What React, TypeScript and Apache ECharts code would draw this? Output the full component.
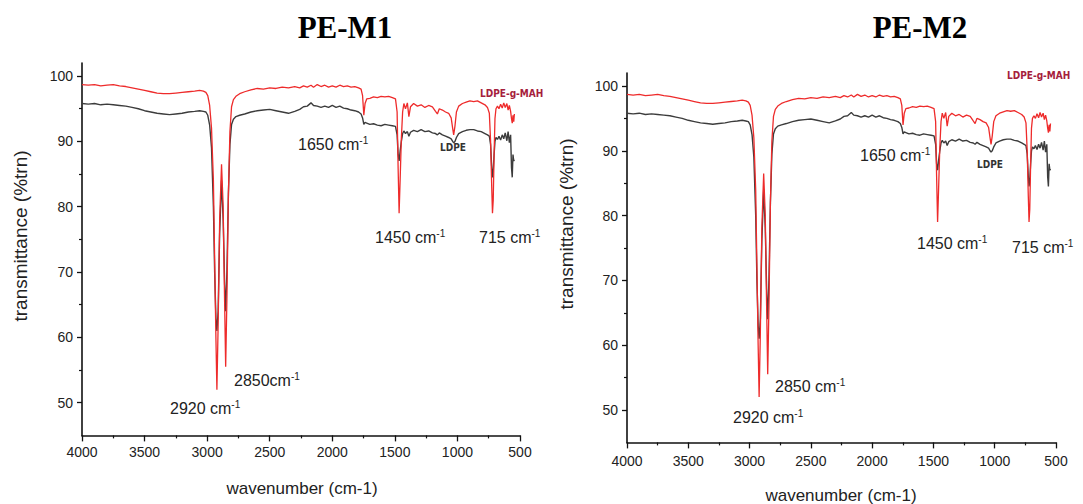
import React, { useEffect, useRef } from "react";
import * as echarts from "echarts";

// wavenumber (cm-1), shared by both spectra of a panel
const wavenumbers = [
  4000, 3950, 3900, 3850, 3800, 3750, 3700, 3650, 3600, 3550, 3500, 3450, 3400, 3350, 3300, 3250,
  3200, 3150, 3100, 3060, 3030, 3010, 2995, 2980, 2965, 2950, 2940, 2930, 2922, 2912, 2900, 2885,
  2872, 2860, 2852, 2842, 2830, 2818, 2805, 2790, 2770, 2740, 2700, 2650, 2600, 2550, 2500, 2450,
  2400, 2350, 2300, 2260, 2230, 2200, 2170, 2150, 2120, 2090, 2060, 2030, 2000, 1970, 1940, 1910,
  1880, 1850, 1820, 1790, 1770, 1758, 1748, 1738, 1725, 1700, 1670, 1640, 1610, 1580, 1550, 1520,
  1495, 1482, 1474, 1466, 1458, 1448, 1438, 1428, 1415, 1400, 1388, 1375, 1350, 1320, 1290, 1260,
  1230, 1200, 1175, 1160, 1145, 1120, 1095, 1070, 1050, 1038, 1030, 1020, 1008, 990, 960, 930,
  900, 870, 840, 810, 780, 760, 745, 735, 726, 720, 714, 707, 700, 692, 680, 668,
  655, 642, 630, 618, 605, 595, 585, 575, 568, 562, 556, 550, 545,
];

// LDPE-g-MAH (red)
const graftValues = [
  98.7, 98.6, 98.7, 98.5, 98.6, 98.7, 98.5, 98.4, 98.2, 98.0, 97.8, 97.6, 97.4, 97.3, 97.3, 97.4,
  97.5, 97.6, 97.7, 97.8, 97.7, 97.5, 97.0, 95.5, 92.0, 84.0, 72.0, 60.0, 52.0, 62.0, 78.0, 86.5,
  80.0, 65.0, 55.5, 66.0, 82.0, 91.5, 95.3, 96.4, 96.9, 97.3, 97.6, 97.9, 98.1, 98.0, 98.2, 98.1,
  98.3, 98.2, 98.4, 98.2, 98.5, 98.3, 98.6, 98.3, 98.7, 98.4, 98.6, 98.3, 98.5, 98.3, 98.6, 98.4,
  98.5, 98.3, 98.4, 98.2, 98.0, 97.0, 94.0, 95.8, 96.5, 96.6, 96.8, 96.7, 96.9, 96.8, 96.9, 96.7,
  96.5, 94.5, 86.0, 79.0, 84.0, 90.5, 94.5, 95.8, 95.0, 95.9, 93.8, 95.3, 95.8, 95.4, 95.6, 95.2,
  95.5, 95.3, 94.6, 94.2, 95.0, 94.8, 94.5, 94.3, 93.6, 92.0, 91.0, 92.3, 94.5, 95.4, 95.8, 96.0,
  96.2, 96.1, 96.2, 95.9, 95.6, 95.2, 94.3, 90.0, 83.0, 79.0, 81.0, 88.0, 93.5, 95.0, 95.4, 95.0,
  95.7, 95.1, 95.9, 95.2, 95.8, 94.8, 95.5, 94.6, 93.5, 92.8, 94.0, 93.0, 94.2,
];

// LDPE (dark grey)
const ldpeValues = [
  95.8, 95.7, 95.8, 95.6, 95.7, 95.6, 95.5, 95.4, 95.2, 95.0, 94.7, 94.5, 94.3, 94.2, 94.1, 94.2,
  94.3, 94.5, 94.6, 94.7, 94.6, 94.5, 94.0, 92.5, 89.0, 80.0, 70.0, 63.0, 61.0, 64.0, 76.0, 84.0,
  78.0, 68.0, 64.0, 70.0, 82.0, 89.5, 92.6, 93.4, 93.8, 94.0, 94.2, 94.5, 94.7, 94.8, 94.9, 94.7,
  94.5, 94.3, 94.6, 94.9, 95.3, 95.4, 95.9, 95.5, 95.4, 95.2, 95.4, 95.2, 95.5, 95.2, 95.4, 95.1,
  95.0, 94.8, 94.7, 94.5, 94.2, 93.6, 92.6, 92.9, 92.8, 92.6, 92.7, 92.5, 92.4, 92.6, 92.5, 92.4,
  92.3, 91.0, 88.0, 87.0, 88.5, 90.0, 91.2, 91.6, 91.2, 91.5, 90.8, 91.4, 91.7, 91.5, 91.8, 91.5,
  91.6, 91.3, 91.2, 91.0, 91.3, 91.0, 90.8, 90.6, 90.4, 90.0, 89.8, 90.0, 90.6, 91.2, 91.5, 91.7,
  91.8, 91.8, 91.6, 91.5, 91.2, 91.0, 90.8, 89.5, 86.0, 84.5, 85.5, 88.0, 90.0, 90.6, 90.3, 90.8,
  90.2, 91.0, 90.4, 91.3, 90.1, 91.5, 89.8, 91.0, 86.0, 84.5, 88.0, 87.0, 87.2,
];

const xTicks = { min: 500, max: 4000, step: 500 };
const yMajorTicks = [50, 60, 70, 80, 90, 100];
const yMinorTicks = [55, 65, 75, 85, 95];
const panelTitles = ["PE-M1", "PE-M2"];

const pairs = (vals: number[]) => wavenumbers.map((w, i) => [w, vals[i]]);

const TXT = "#222";
const SANS = "Liberation Sans, Arial, sans-serif";

function peakLabel(x: number, y: number, num: string, space = true) {
  return {
    type: "text",
    x,
    y,
    style: {
      text: `{a|${num}${space ? " " : ""}cm}{b|-1}`,
      verticalAlign: "middle",
      align: "left",
      rich: {
        a: { fontSize: 16, fontFamily: SANS, fill: TXT, lineHeight: 18 },
        b: { fontSize: 10, fontFamily: SANS, fill: TXT, lineHeight: 10, verticalAlign: "top" },
      },
    },
  };
}

function smallLabel(x: number, y: number, text: string, color: string) {
  return {
    type: "text",
    x,
    y,
    style: {
      text,
      fontSize: 10,
      fontWeight: "bold",
      fontFamily: "DejaVu Sans Condensed, Liberation Sans Narrow, Arial, sans-serif",
      fill: color,
      align: "left",
      verticalAlign: "middle",
    },
  };
}

function plainText(x: number, y: number, text: string, size: number, rotation = 0, extra: any = {}) {
  return {
    type: "text",
    x,
    y,
    rotation,
    style: {
      text,
      fontSize: size,
      fontFamily: SANS,
      fill: TXT,
      align: "center",
      verticalAlign: "middle",
      ...extra,
    },
  };
}

export default function App() {
  const ref = useRef<HTMLDivElement>(null);
  useEffect(() => {
    if (!ref.current) return;
    const chart = echarts.init(ref.current, undefined, { renderer: "svg" });

    const grids = [
      { left: 82, top: 63, width: 438, height: 372.4 },
      { left: 627, top: 73, width: 429, height: 369.4 },
    ];

    const xAxes = grids.map((_, gi) => ({
      gridIndex: gi,
      type: "value",
      min: xTicks.min,
      max: xTicks.max,
      interval: xTicks.step,
      inverse: true,
      axisLine: { show: true, onZero: false, lineStyle: { color: "#111", width: 1.6 } },
      axisTick: { show: true, inside: false, length: 6, lineStyle: { color: "#111", width: 1.3 } },
      minorTick: { show: true, splitNumber: 2, length: 3, lineStyle: { color: "#111", width: 1.2 } },
      splitLine: { show: false },
      minorSplitLine: { show: false },
      axisLabel: {
        fontSize: 14,
        color: TXT,
        margin: gi === 0 ? 10 : 12,
        fontFamily: SANS,
        formatter: (v: number) => String(v),
      },
    }));

    const yAxes: any[] = [];
    grids.forEach((_, gi) => {
      yAxes.push({
        gridIndex: gi,
        type: "value",
        min: 45,
        max: 102,
        axisLine: { show: true, onZero: false, lineStyle: { color: "#111", width: 1.6 } },
        axisTick: {
          show: true,
          inside: false,
          length: 5,
          customValues: yMajorTicks,
          lineStyle: { color: "#111", width: 1.3 },
        },
        axisLabel: { fontSize: 14, color: TXT, margin: 9, customValues: yMajorTicks, fontFamily: SANS },
        splitLine: { show: false },
      });
      yAxes.push({
        gridIndex: gi,
        type: "value",
        position: "left",
        min: 45,
        max: 102,
        axisLine: { show: false },
        axisTick: {
          show: true,
          inside: false,
          length: 3,
          customValues: yMinorTicks,
          lineStyle: { color: "#111", width: 1.2 },
        },
        axisLabel: { show: false },
        splitLine: { show: false },
      });
    });

    const series: any[] = [];
    grids.forEach((_, gi) => {
      series.push({
        type: "line",
        name: "LDPE",
        xAxisIndex: gi,
        yAxisIndex: gi * 2,
        data: pairs(ldpeValues),
        showSymbol: false,
        symbol: "none",
        lineStyle: { color: "#3c3c3c", width: 1.4 },
        z: 2,
      });
      series.push({
        type: "line",
        name: "LDPE-g-MAH",
        xAxisIndex: gi,
        yAxisIndex: gi * 2,
        data: pairs(graftValues),
        showSymbol: false,
        symbol: "none",
        lineStyle: { color: "#ee2b2b", width: 1.3 },
        z: 3,
      });
    });

    const titleStyle = { fontFamily: "Liberation Serif, Times New Roman, serif", fontWeight: "bold", fill: "#000" };
    const graphic: any[] = [
      plainText(345, 27, panelTitles[0], 31, 0, titleStyle),
      plainText(920, 27, panelTitles[1], 31, 0, titleStyle),
      plainText(20, 236, "transmittance (%trn)", 19, Math.PI / 2),
      plainText(566, 224, "transmittance (%trn)", 19, Math.PI / 2),
      plainText(302, 488, "wavenumber (cm-1)", 17),
      plainText(841, 495, "wavenumber (cm-1)", 17),
      // left panel annotations
      peakLabel(170, 408, "2920"),
      peakLabel(234, 380, "2850", false),
      peakLabel(298, 144, "1650"),
      peakLabel(375, 237, "1450"),
      peakLabel(479, 237, "715"),
      smallLabel(440, 147, "LDPE", "#333"),
      smallLabel(480, 93, "LDPE-g-MAH", "#a5203c"),
      // right panel annotations
      peakLabel(733, 417, "2920"),
      peakLabel(775, 386, "2850"),
      peakLabel(860, 155, "1650"),
      peakLabel(917, 243, "1450"),
      peakLabel(1012, 247, "715"),
      smallLabel(977, 164, "LDPE", "#333"),
      smallLabel(1007, 75, "LDPE-g-MAH", "#a5203c"),
    ];

    chart.setOption({
      animation: false,
      backgroundColor: "#fff",
      grid: grids,
      xAxis: xAxes,
      yAxis: yAxes,
      series,
      graphic,
    });
    return () => chart.dispose();
  }, []);

  return (
    <div
      ref={ref}
      style={{ position: "absolute", left: 0, top: 0, width: 1083, height: 504, background: "#fff" }}
    />
  );
}
